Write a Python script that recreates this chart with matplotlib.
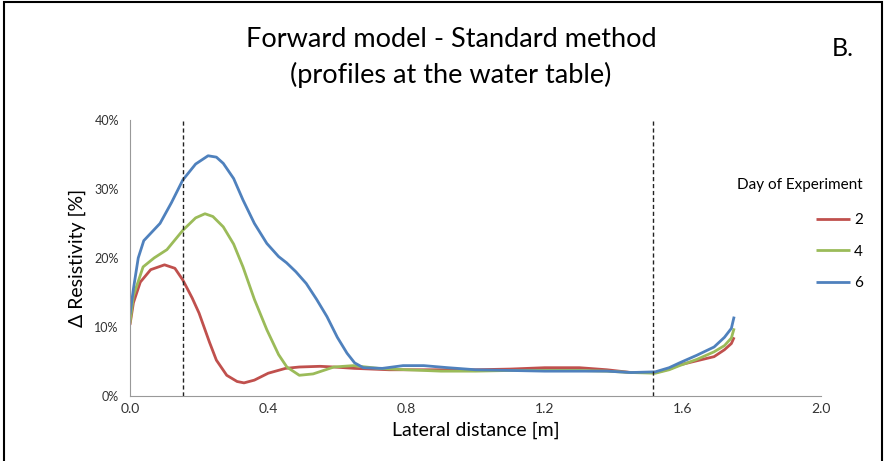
import matplotlib.pyplot as plt
from matplotlib.patches import Rectangle

plt.rcParams['font.family'] = ['Lato', 'DejaVu Sans']

# Day 2
x2 = [0.0, 0.01, 0.03, 0.06, 0.10, 0.13, 0.153, 0.18, 0.20, 0.23, 0.25, 0.28, 0.31, 0.33, 0.36, 0.40,
      0.45, 0.49, 0.55, 0.59, 0.65, 0.75, 0.85, 1.0, 1.1, 1.2, 1.3, 1.38, 1.45, 1.52, 1.56, 1.59,
      1.64, 1.69, 1.72, 1.74, 1.748]
y2 = [10.3, 13.5, 16.5, 18.3, 19.0, 18.5, 16.8, 14.2, 12.0, 7.8, 5.2, 3.0, 2.1, 1.9, 2.3, 3.3,
      4.0, 4.2, 4.3, 4.2, 4.0, 3.8, 3.8, 3.8, 3.9, 4.1, 4.1, 3.8, 3.4, 3.4, 3.9, 4.5,
      5.1, 5.7, 6.7, 7.6, 8.5]

# Day 4
x4 = [0.0, 0.01, 0.038, 0.07, 0.107, 0.153, 0.19, 0.217, 0.24, 0.27, 0.30, 0.327, 0.36, 0.396,
      0.43, 0.454, 0.49, 0.53, 0.59, 0.646, 0.72, 0.8, 0.9, 1.0, 1.1, 1.2, 1.3, 1.38, 1.45, 1.52,
      1.56, 1.59, 1.64, 1.69, 1.72, 1.74, 1.748]
y4 = [10.5, 14.5, 18.7, 20.0, 21.2, 24.0, 25.8, 26.4, 26.0, 24.5, 22.0, 18.7, 14.0, 9.6,
      6.0, 4.2, 3.0, 3.2, 4.2, 4.4, 4.0, 3.8, 3.6, 3.6, 3.7, 3.7, 3.7, 3.6, 3.4, 3.3,
      3.8, 4.4, 5.3, 6.4, 7.3, 8.4, 9.8]

# Day 6
x6 = [0.0, 0.01, 0.024, 0.04, 0.087, 0.12, 0.153, 0.19, 0.226, 0.25, 0.27, 0.30, 0.327, 0.36,
      0.396, 0.43, 0.453, 0.48, 0.51, 0.54, 0.57, 0.60, 0.628, 0.65, 0.675, 0.73, 0.79, 0.85,
      0.92, 1.0, 1.1, 1.2, 1.3, 1.38, 1.45, 1.52, 1.56, 1.59, 1.64, 1.69, 1.72, 1.74, 1.748]
y6 = [11.8, 15.5, 20.0, 22.5, 25.0, 28.0, 31.3, 33.6, 34.8, 34.6, 33.7, 31.5, 28.4, 25.0,
      22.1, 20.2, 19.3, 18.0, 16.3, 14.0, 11.5, 8.5, 6.2, 4.8, 4.1, 4.0, 4.4, 4.4,
      4.1, 3.8, 3.7, 3.6, 3.6, 3.6, 3.4, 3.5, 4.1, 4.8, 5.9, 7.1, 8.5, 9.8, 11.5]

days = ['2', '4', '6']
colors = ['#C0504D', '#9BBB59', '#4F81BD']
x_ticks = [0.0, 0.4, 0.8, 1.2, 1.6, 2.0]
y_ticks = [0, 10, 20, 30, 40]
dash_x = [0.153, 1.514]

fig = plt.figure(figsize=(8.84, 4.61), dpi=100)
fig.patches.append(Rectangle((0.004, -0.01), 0.994, 1.005, transform=fig.transFigure,
                             fill=False, edgecolor='black', linewidth=1.5))
ax = fig.add_axes([0.147, 0.141, 0.782, 0.599])

for xs, ys, d, c in zip([x2, x4, x6], [y2, y4, y6], days, colors):
    ax.plot(xs, ys, color=c, linewidth=2.0, label=d, solid_capstyle='butt',
            solid_joinstyle='round')

for dx in dash_x:
    ax.axvline(dx, color='#222222', linestyle=(0, (3, 2)), linewidth=1.0)

ax.set_xlim(0, 2.0)
ax.set_ylim(0, 40)
ax.set_xticks(x_ticks)
ax.set_xticklabels([f'{v:.1f}' for v in x_ticks], fontsize=10)
ax.set_yticks(y_ticks)
ax.set_yticklabels([f'{v}%' for v in y_ticks], fontsize=9)
ax.tick_params(axis='x', length=0, pad=5, colors='#333333')
ax.tick_params(axis='y', length=0, pad=8, colors='#333333')
for s in ['top', 'right']:
    ax.spines[s].set_visible(False)
for s in ['left', 'bottom']:
    ax.spines[s].set_color('#999999')

ax.set_xlabel('Lateral distance [m]', fontsize=14, labelpad=5)
ax.set_ylabel('Δ Resistivity [%]', fontsize=14, labelpad=6)

fig.text(0.51, 0.915, 'Forward model - Standard method', ha='center', va='center', fontsize=19.5)
fig.text(0.51, 0.838, '(profiles at the water table)', ha='center', va='center', fontsize=19.5)
fig.text(0.953, 0.895, 'B.', ha='center', va='center', fontsize=18)

leg = ax.legend(title='Day of Experiment', loc='upper left', bbox_to_anchor=(0.87, 0.81),
                frameon=False, fontsize=11, title_fontsize=11, handlelength=2.2,
                labelspacing=1.15, handletextpad=0.3, borderaxespad=0)
leg._legend_box.align = 'right'
leg._legend_box.sep = 15

fig.savefig('out.png', dpi=100)
